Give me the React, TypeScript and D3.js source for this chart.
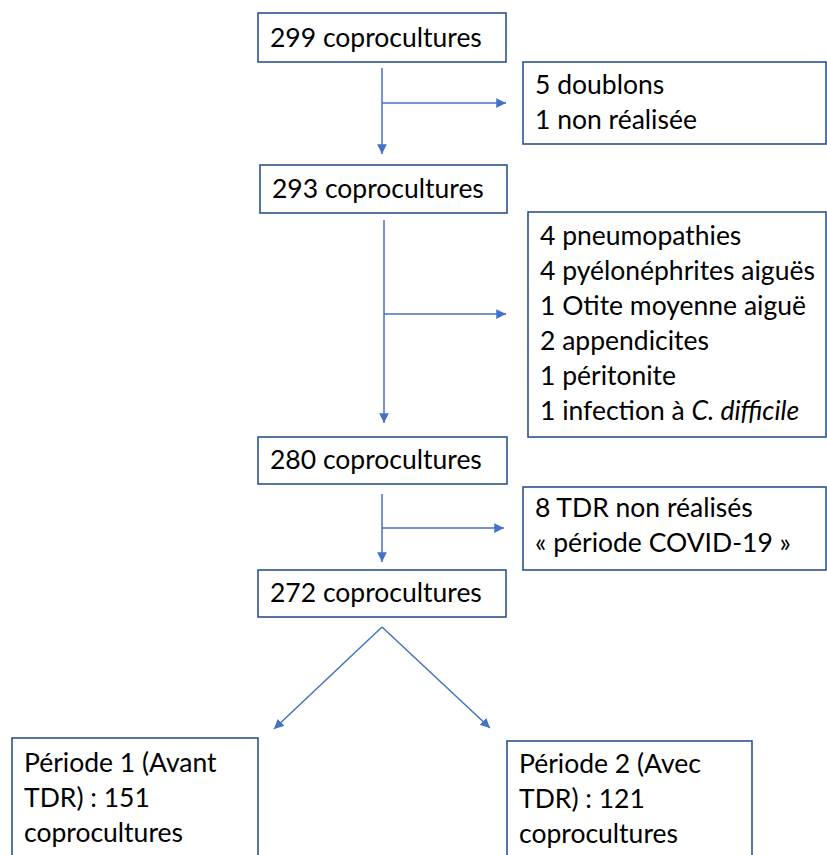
import React, { useEffect, useRef } from 'react';
import * as d3 from 'd3';

// flowchart content
const counts = [299, 293, 280, 272];
const countLabel = 'coprocultures';
const exclusions1 = ['5 doublons', '1 non réalisée'];
const exclusions2 = ['4 pneumopathies', '4 pyélonéphrites aiguës', '1 Otite moyenne aiguë', '2 appendicites', '1 péritonite', '1 infection à |C. difficile'];
const exclusions3 = ['8 TDR non réalisés', '« période COVID-19 »'];
const periodLines1 = ['Période 1 (Avant', 'TDR) : 151', 'coprocultures'];
const periodLines2 = ['Période 2 (Avec', 'TDR) : 121', 'coprocultures'];

const W = 827, H = 855;
const lineColor = '#4472C4';
const boxColor = '#2F528F';
const font = 'Lato, "Open Sans", sans-serif';
const fontSize = 26.5;
const lineStep = 35;

// layout of the boxes (x0,y0,x1,y1)
const mainBoxes = [
  [258, 13, 506, 62],
  [260, 165, 507, 213],
  [258, 437, 507, 484],
  [258, 570, 506, 617],
];
const sideBoxes = [
  { box: [523, 62, 826, 144], lines: exclusions1, first: 94 },
  { box: [528, 212, 826, 437], lines: exclusions2, first: 245 },
  { box: [523, 487, 826, 570], lines: exclusions3, first: 517 },
];
const periodBoxes = [
  { box: [12, 738, 258, 860], lines: periodLines1, first: 772 },
  { box: [507, 741, 752, 860], lines: periodLines2, first: 773 },
];
// vertical connectors: x, y start, y end, branch y, branch end x
const connectors = [
  [382, 68, 154, 103, 506],
  [384, 220, 423, 314, 506],
  [382, 494, 562, 528, 504],
];

const App = () => {
  const ref = useRef<SVGSVGElement>(null);

  useEffect(() => {
    document.body.style.margin = '0';
    const svg = d3.select(ref.current);
    svg.selectAll('*').remove();

    svg.append('defs').append('marker')
      .attr('id', 'arrow')
      .attr('viewBox', '0 0 10 10')
      .attr('refX', 10).attr('refY', 5)
      .attr('markerWidth', 6.5).attr('markerHeight', 6.5)
      .attr('markerUnits', 'strokeWidth')
      .attr('orient', 'auto')
      .append('path').attr('d', 'M0,0 L10,5 L0,10 z').attr('fill', lineColor);

    const drawBox = (b: number[]) => {
      svg.append('rect')
        .attr('x', b[0]).attr('y', b[1])
        .attr('width', b[2] - b[0]).attr('height', b[3] - b[1])
        .attr('fill', 'white').attr('stroke', boxColor).attr('stroke-width', 1.6);
    };

    const drawLines = (lines: string[], x: number, first: number) => {
      lines.forEach((l, i) => {
        const t = svg.append('text')
          .attr('x', x).attr('y', first + i * lineStep)
          .attr('font-family', font).attr('font-size', fontSize).attr('fill', 'black');
        const parts = l.split('|');
        t.append('tspan').text(parts[0]);
        if (parts[1]) t.append('tspan').attr('font-style', 'italic').text(parts[1]);
      });
    };

    mainBoxes.forEach((b, i) => {
      drawBox(b);
      drawLines([`${counts[i]} ${countLabel}`], b[0] + 12, b[3] - 15);
    });
    sideBoxes.forEach(s => { drawBox(s.box); drawLines(s.lines, s.box[0] + 12, s.first); });
    periodBoxes.forEach(s => { drawBox(s.box); drawLines(s.lines, s.box[0] + 12, s.first); });

    const line = (x1: number, y1: number, x2: number, y2: number) => {
      svg.append('line')
        .attr('x1', x1).attr('y1', y1).attr('x2', x2).attr('y2', y2)
        .attr('stroke', lineColor).attr('stroke-width', 1.5)
        .attr('marker-end', 'url(#arrow)');
    };
    connectors.forEach(c => {
      line(c[0], c[1], c[0], c[2]);
      line(c[0], c[3], c[4], c[3]);
    });
    // split into the two periods
    line(382, 627, 274, 729);
    line(382, 627, 490, 728);
  }, []);

  return <svg ref={ref} width={W} height={H} style={{ display: 'block', background: 'white' }} />;
};

export default App;
